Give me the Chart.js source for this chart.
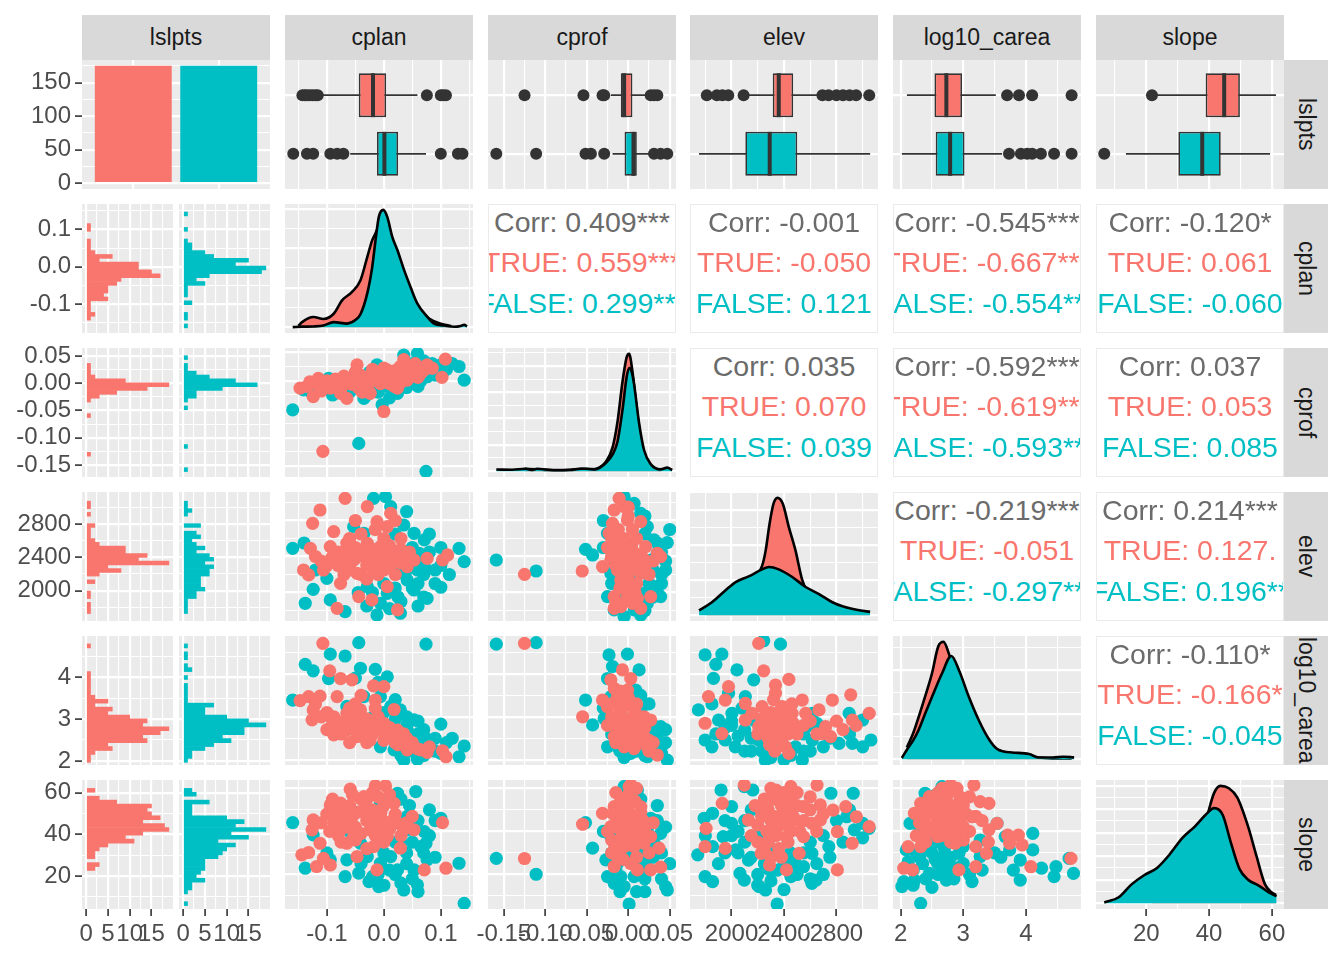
<!DOCTYPE html>
<html>
<head>
<meta charset="utf-8">
<script src="https://cdn.jsdelivr.net/npm/chart.js"></script>
<style>
  body { margin: 0; width: 1344px; height: 960px; overflow: hidden; background: #fff; position: relative;
         font-family: "Liberation Sans", Arial, sans-serif; }
  canvas { position: absolute; }
  .strip { position: absolute; background: #D9D9D9; color: #1A1A1A; font-size: 23px; overflow: hidden;
           display: flex; align-items: center; justify-content: center; white-space: nowrap; }
  .strip.right span { writing-mode: vertical-rl; }
  .corr { position: absolute; background: #fff; border: 1.5px solid #EBEBEB; box-sizing: border-box; overflow: hidden; }
  .corr div { position: absolute; left: -120px; right: -120px; text-align: center; font-size: 28.5px;
              line-height: 1; white-space: nowrap; }
</style>
</head>
<body>
<script>
// ---- data ----
const vars = ['lslpts', 'cplan', 'cprof', 'elev', 'log10_carea', 'slope'];
const groups = ['TRUE', 'FALSE'];
const groupCounts = [175, 175];

// axis ranges and breaks
const cplanLimits = [-0.1735, 0.1565];
const cplanBreaks = [-0.1, 0, 0.1];
const cplanLabels = ['-0.1', '0.0', '0.1'];
const cplanMinor = [-0.15, -0.05, 0.05, 0.15];
const cprofLimits = [-0.169, 0.0575];
const cprofBreaks = [-0.15, -0.1, -0.05, 0, 0.05];
const cprofLabels = ['-0.15', '-0.10', '-0.05', '0.00', '0.05'];
const cprofMinor = [-0.175, -0.125, -0.075, -0.025, 0.025];
const elevLimits = [1683, 3117];
const elevBreaks = [2000, 2400, 2800];
const elevLabels = ['2000', '2400', '2800'];
const elevMinor = [1800, 2200, 2600, 3000];
const logLimits = [1.878, 4.88];
const logBreaks = [2, 3, 4];
const logLabels = ['2', '3', '4'];
const logMinor = [2.5, 3.5, 4.5];
const slopeLimits = [3.97, 63.85];
const slopeBreaks = [20, 40, 60];
const slopeLabels = ['20', '40', '60'];
const slopeMinor = [10, 30, 50];

const countLimits = [-8.75, 183.75];
const countBreaks = [0, 50, 100, 150];
const countLabels = ['0', '50', '100', '150'];
const countMinor = [25, 75, 125, 175];

const histCountLimits = [-0.95, 19.95];
const histCountBreaks = [0, 5, 10, 15];
const histCountLabels = ['0', '5', '10', '15'];
const histCountMinor = [2.5, 7.5, 12.5, 17.5];

const histCplanLimits = [-0.1775, 0.168];
const histCprofLimits = [-0.1722, 0.0649];
const histElevLimits = [1636, 3184];
const histLogLimits = [1.904, 4.98];
const histSlopeLimits = [4.13, 66.1];

// histogram bins (centre of first bin, bin width) and counts, lowest bin first
const cplanBin = [-0.1585, 0.01034];
const histCplanTrue  = [0,0,1,2,1,1,1,5,4,5,5,7,8,17,15,12,12,3,6,2,1,1,1,0,0,1,1,0,0,0];
const histCplanFalse = [1,0,1,1,0,0,2,0,1,1,1,5,3,6,18,19,12,15,7,5,2,2,1,0,0,1,0,0,0,1];
const cprofBin = [-0.1587, 0.0071];
const histCprofTrue  = [0,0,0,0,1,0,0,0,0,0,0,0,0,0,1,0,0,0,1,3,7,14,19,9,2,1,1,1,0,0];
const histCprofFalse = [1,0,0,0,0,0,1,0,0,0,0,0,0,0,0,0,1,0,1,3,3,9,17,12,6,3,1,1,0,1];
const elevBin = [1748, 44.95];
const histElevTrue  = [1,1,1,0,1,1,0,0,2,0,3,8,5,19,12,14,9,9,3,2,1,1,1,2,0,0,1,0,1,1];
const histElevFalse = [1,1,1,1,3,3,5,4,4,4,6,6,7,5,7,6,3,5,3,2,4,3,0,4,0,0,1,2,1,1];
const logBin = [2.0145, 0.0941];
const histLogTrue  = [1,1,2,6,5,14,13,17,19,13,14,10,5,6,2,5,2,1,1,1,1,1,1,0,0,0,0,0,0,1];
const histLogFalse = [1,2,2,5,7,11,9,14,14,19,15,10,5,5,7,1,1,1,1,1,0,1,0,2,1,0,1,1,0,1];
const slopeBin = [6.7, 1.877];
const histSlopeTrue  = [0,0,0,0,0,0,0,0,0,2,3,0,2,2,3,5,11,9,13,19,18,13,17,15,14,15,7,3,0,2];
const histSlopeFalse = [1,0,0,1,2,2,5,3,4,5,5,5,8,9,10,12,8,15,11,19,12,14,10,2,2,2,6,0,3,2];

// boxplots: [lower whisker, q1, median, q3, upper whisker] and outliers
const boxCplanTrue  = [-0.112, -0.044, -0.019, 0.004, 0.059];
const outCplanTrue  = [-0.143, -0.139, -0.135, -0.130, -0.125, -0.120, -0.116, 0.0755, 0.100, 0.104, 0.109];
const boxCplanFalse = [-0.059, -0.012, 0.001, 0.025, 0.074];
const outCplanFalse = [-0.159, -0.135, -0.124, -0.094, -0.082, -0.071, 0.100, 0.130, 0.138];
const boxCprofTrue  = [-0.021, -0.009, -0.005, 0.005, 0.023];
const outCprofTrue  = [-0.125, -0.054, -0.031, -0.029, 0.027, 0.031, 0.035];
const boxCprofFalse = [-0.019, -0.0045, 0.0063, 0.0103, 0.027];
const outCprofFalse = [-0.159, -0.111, -0.0515, -0.045, -0.029, 0.031, 0.039, 0.047];
const boxElevTrue  = [2130, 2314, 2360, 2470, 2654];
const outElevTrue  = [1811, 1888, 1930, 1975, 2092, 2693, 2740, 2800, 2850, 2900, 2950, 3050];
const boxElevFalse = [1752, 2105, 2291, 2501, 3057];
const outElevFalse = [];
const boxLogTrue  = [2.10, 2.54, 2.73, 2.98, 3.52];
const outLogTrue  = [3.70, 3.89, 4.10, 4.73];
const boxLogFalse = [2.02, 2.56, 2.79, 3.02, 3.62];
const outLogFalse = [3.73, 3.92, 4.02, 4.10, 4.24, 4.45, 4.73];
const boxSlopeTrue  = [23.4, 38.9, 44.8, 49.8, 61.3];
const outSlopeTrue  = [21.8];
const boxSlopeFalse = [13.5, 30.2, 37.8, 43.7, 59.4];
const outSlopeFalse = [6.6];

// densities (relative height, tallest curve of a panel = 1)
const densCplanTrue = [[-0.150,0.01],[-0.1435,0.043],[-0.1235,0.086],[-0.106,0.07],[-0.088,0.114],[-0.073,0.23],[-0.0558,0.30],[-0.041,0.40],[-0.029,0.60],[-0.0205,0.74],[-0.0146,0.80],[-0.008,0.86],[0.0,0.82],[0.015,0.65],[0.03,0.45],[0.045,0.3],[0.06,0.17],[0.08,0.07],[0.1,0.03],[0.118,0.01]];
const densCplanFalse = [[-0.160,0.0],[-0.1435,0.004],[-0.1235,0.006],[-0.106,0.014],[-0.088,0.043],[-0.0646,0.03],[-0.05,0.06],[-0.041,0.11],[-0.029,0.29],[-0.0205,0.51],[-0.0146,0.74],[-0.0088,0.94],[-0.001,1.0],[0.006,0.94],[0.0148,0.77],[0.0236,0.66],[0.0353,0.49],[0.047,0.34],[0.0589,0.2],[0.0766,0.086],[0.0882,0.03],[0.106,0.014],[0.1235,0.003],[0.135,0.01],[0.141,0.02],[0.146,0.006]];
const densCprofTrue = [[-0.125,0.02],[-0.11,0.015],[-0.09,0.01],[-0.07,0.012],[-0.055,0.02],[-0.045,0.015],[-0.035,0.03],[-0.027,0.08],[-0.019,0.2],[-0.013,0.42],[-0.007,0.76],[-0.002,0.97],[0.001,1.0],[0.005,0.85],[0.009,0.6],[0.013,0.38],[0.019,0.15],[0.027,0.05],[0.033,0.02],[0.039,0.01]];
const densCprofFalse = [[-0.159,0.014],[-0.14,0.012],[-0.124,0.02],[-0.115,0.01],[-0.11,0.02],[-0.09,0.008],[-0.07,0.01],[-0.0575,0.02],[-0.05,0.02],[-0.04,0.015],[-0.027,0.07],[-0.019,0.14],[-0.013,0.25],[-0.007,0.52],[-0.002,0.8],[0.001,0.88],[0.004,0.85],[0.007,0.74],[0.013,0.41],[0.019,0.18],[0.027,0.06],[0.039,0.015],[0.047,0.03],[0.053,0.01]];
const densElevTrue = [[1811,0.02],[1900,0.05],[2000,0.1],[2100,0.22],[2180,0.32],[2233,0.42],[2260,0.55],[2290,0.78],[2320,0.95],[2350,1.0],[2391,0.95],[2437,0.75],[2488,0.55],[2539,0.3],[2600,0.16],[2700,0.1],[2800,0.07],[2900,0.05],[3000,0.03],[3050,0.02]];
const densElevFalse = [[1752,0.04],[1850,0.11],[1952,0.21],[2028,0.28],[2130,0.33],[2233,0.39],[2284,0.41],[2360,0.39],[2463,0.325],[2565,0.24],[2667,0.18],[2769,0.11],[2846,0.076],[2973,0.042],[3057,0.028]];
const densLogTrue = [[2.10,0.1],[2.2,0.22],[2.3,0.38],[2.4,0.55],[2.5,0.73],[2.6,0.96],[2.685,1.0],[2.77,0.9],[2.85,0.75],[3.0,0.55],[3.2,0.3],[3.4,0.14],[3.55,0.08],[3.7,0.05],[3.9,0.03],[4.1,0.02],[4.3,0.01],[4.5,0.005],[4.73,0.005]];
const densLogFalse = [[2.02,0.01],[2.1,0.08],[2.2,0.16],[2.28,0.24],[2.4,0.4],[2.5,0.53],[2.66,0.73],[2.81,0.88],[2.93,0.76],[3.09,0.53],[3.25,0.33],[3.41,0.17],[3.54,0.086],[3.65,0.065],[3.78,0.057],[4.05,0.043],[4.21,0.014],[4.43,0.014],[4.6,0.02],[4.77,0.015]];
const densSlopeTrue = [[21.8,0.02],[25,0.06],[30,0.2],[35,0.42],[38.9,0.7],[41.6,0.94],[43.6,1.0],[46.3,0.98],[49,0.9],[52.4,0.655],[55.1,0.4],[57.8,0.16],[60,0.09],[61.3,0.07]];
const densSlopeFalse = [[6.6,0.006],[11.2,0.05],[15.3,0.16],[19.4,0.24],[23.4,0.3],[27.4,0.415],[31.5,0.556],[35.5,0.655],[38.9,0.754],[41.6,0.81],[44.3,0.754],[47,0.51],[49.7,0.29],[52.4,0.2],[55.8,0.15],[59.1,0.09],[61.5,0.06]];

const densLimits = [-0.05, 1.05];
const densCplanGrid = [[0, 0.336, 0.672, 1.008], [0.168, 0.504, 0.84]];
const densCprofGrid = [[0, 0.224, 0.448, 0.672, 0.896], [0.112, 0.336, 0.56, 0.784, 1.008]];
const densElevGrid = [[0, 0.298, 0.596, 0.894], [0.149, 0.447, 0.745, 1.043]];
const densLogGrid = [[0, 0.38, 0.76], [0.19, 0.57, 0.95]];
const densSlopeGrid = [[0, 0.2, 0.4, 0.6, 0.8, 1.0], [0.1, 0.3, 0.5, 0.7, 0.9]];

// scatter points [x, y]
const scCplanCprofTrue = [[-0.107,-0.124],[0,-0.054],[-0.047,0.028],[0.035,0.037],[0.076,0.028],[0.108,0.038],[0.102,0.006],[-0.147,-0.013],[-0.124,-0.028],[-0.094,-0.013],[-0.065,0.001],[-0.035,0.001],[-0.018,0.013],[0.006,0.019],[0.024,0.007],[0.053,0.016],[-0.076,-0.022],[-0.029,-0.01],[-0.006,-0.005],[0.018,-0.01],[0.041,0.001],[0.065,0.013],[-0.106,-0.01],[-0.053,-0.007],[-0.088,-0.002],[-0.041,0.01],[-0.012,0.004],[0.012,0.013],[0.029,0.025],[-0.065,-0.031],[-0.135,-0.01],[-0.024,-0.022],[0.024,-0.013],[0.071,0.019],[-0.12,-0.005],[-0.1,0.0],[-0.08,-0.008],[-0.06,-0.005],[-0.045,-0.012],[-0.03,0.005],[-0.015,0.0],[0.0,0.005],[0.015,0.0],[0.035,0.012],[0.045,0.02],[0.06,0.006],[-0.07,0.008],[-0.05,0.015],[0.0,0.022],[0.03,-0.003],[-0.11,-0.018],
  [-0.13,-0.002],[-0.115,0.004],[-0.095,-0.006],[-0.085,0.003],[-0.075,-0.012],[-0.058,0.004],[-0.04,-0.002],[-0.025,0.008],[-0.008,0.012],[0.008,0.008],[0.02,0.018],[0.04,0.024],[0.055,0.03],[0.07,0.024],[0.085,0.022],[-0.02,0.02],[0.01,-0.005],[-0.038,-0.02],[0.05,0.008]];
const scCplanCprofFalse = [[-0.160,-0.051],[-0.044,-0.110],[0.074,-0.159],[-0.003,-0.042],[0.035,0.045],[0.059,0.048],[0.1,0.028],[0.132,0.025],[0.141,0.001],[0.076,0.007],[-0.097,0.004],[-0.035,-0.031],[-0.012,0.028],[0.024,-0.022],[-0.141,-0.016],[-0.076,-0.004],[0.012,0.001],[0.047,0.013],[0.065,0.022],[-0.065,-0.016],[-0.124,-0.022],[0.0,-0.01],[0.03,-0.005],[-0.02,-0.015],[0.05,0.0],[-0.05,-0.008],[0.02,0.01],[0.08,0.015],[-0.1,-0.012],[0.04,-0.012],[-0.08,-0.02],[0.06,-0.01],[0.09,0.01],[-0.03,-0.025],[0.01,-0.03],[0.05,0.03],[0.11,0.02],
  [-0.13,-0.018],[-0.09,-0.025],[-0.06,-0.02],[-0.01,-0.02],[0.015,-0.015],[0.035,0.02],[0.07,0.035],[0.085,0.03],[0.12,0.03],[0.1,0.018],[-0.025,0.015],[0.065,0.0]];

const scCplanElevTrue = [[-0.068,3047],[-0.112,2917],[-0.125,2769],[-0.088,2676],[-0.129,2491],[-0.141,2250],[-0.132,2195],[-0.082,1824],[0.024,1806],[-0.044,1954],[-0.021,1917],[-0.076,2102],[0.103,2361],[0.112,2417],[0.076,2380],[-0.029,2954],[0.012,2880],[-0.012,2787],[0.006,2732],[-0.094,2361],[-0.065,2436],[-0.035,2398],[-0.006,2361],[0.024,2436],[0.053,2361],[-0.047,2213],[-0.018,2250],[0.006,2065],[-0.065,2547],[-0.029,2547],[-0.106,2250],[-0.094,2510],[0.041,2287],[-0.006,2510],[-0.053,2361],[-0.08,2300],[-0.06,2300],[-0.04,2450],[-0.02,2400],[0.0,2450],[0.02,2350],[0.04,2400],[-0.05,2500],[-0.03,2300],[-0.01,2200],[0.01,2280],[-0.07,2200],[0.03,2480],[-0.11,2350],[0.0,2600],[-0.04,2650],
  [-0.09,2400],[-0.07,2350],[-0.05,2380],[-0.03,2420],[-0.01,2330],[0.01,2400],[0.03,2330],[-0.06,2250],[-0.04,2200],[-0.02,2280],[0.0,2250],[0.02,2200],[-0.08,2450],[-0.06,2600],[-0.02,2480],[0.01,2520],[-0.1,2300],[-0.12,2400],[0.045,2450],[-0.03,2150],[0.03,2600],[-0.015,2700],[-0.05,2800],[0.02,2800]];
const scCplanElevFalse = [[-0.160,2491],[-0.124,2035],[-0.138,1880],[-0.094,1917],[-0.068,1787],[-0.012,1750],[0.029,1769],[0.076,1935],[0.1,2058],[0.132,2491],[0.141,2343],[-0.018,3047],[0.003,3065],[0.012,2954],[0.035,2750],[0.053,2658],[0.071,2584],[0.062,2436],[-0.053,2732],[-0.035,2658],[-0.1,2157],[0.024,2213],[0.041,2139],[0.006,1991],[0.053,2028],[-0.006,1880],[-0.029,2065],[-0.065,2287],[-0.082,2398],[0.059,2250],[0.071,2287],[0.035,2398],[0.02,2650],[0.05,2500],[0.08,2450],[0.06,2100],[0.03,1900],[0.0,2100],[-0.02,2000],[0.09,2250],[0.045,2300],[0.07,1950],
  [0.04,2250],[0.07,2200],[0.09,2100],[0.05,2050],[0.02,2050],[-0.03,1850],[0.01,1820],[0.06,1850],[0.08,2650],[0.1,2500],[-0.12,2250],[-0.14,2550],[0.04,2900],[0.1,2300],[0.115,2200],[-0.045,2000],[0.025,1950],[0.055,2380]];

const scCprofElevTrue = [[-0.125,2202],[-0.0555,2239],[-0.011,3047],[-0.017,2917],[-0.019,2769],[-0.023,2658],[-0.005,2954],[-0.001,2806],[0.015,2787],[0.021,2510],[0.035,2436],[0.039,2398],[-0.031,2287],[-0.021,2361],[-0.013,2510],[-0.001,2547],[0.007,2398],[0.015,2213],[-0.009,2139],[0.003,2065],[-0.017,1954],[-0.001,1954],[0.011,1935],[0.027,1954],[-0.017,1824],[-0.009,1843],[0.015,1824],[-0.005,2361],[0.007,2287],[-0.013,2250],[-0.01,2400],[0.0,2450],[0.01,2350],[-0.005,2600],[0.005,2700],[-0.015,2300],[0.02,2300],[0.0,2200],[-0.01,2050],[0.01,2100],[-0.02,2600],[0.0,2850],
  [-0.012,2450],[0.004,2500],[0.012,2420],[-0.008,2300],[0.002,2330],[0.018,2380],[-0.02,2400],[-0.005,2150],[0.008,2000],[-0.012,2700],[0.01,2600],[0.0,2950],[-0.025,2500],[0.025,2200],[0.03,2350],[-0.015,1900],[0.005,1880]];
const scCprofElevFalse = [[-0.159,2361],[-0.111,2239],[-0.0515,2480],[-0.043,2417],[0.047,2554],[0.045,2250],[0.039,1954],[-0.005,3065],[0.007,2991],[0.015,2880],[0.023,2732],[0.031,2584],[-0.025,2658],[-0.017,2436],[-0.009,2213],[0.007,2139],[0.019,1991],[-0.025,1954],[-0.017,1806],[-0.005,1732],[0.007,1806],[0.023,1880],[0.031,2065],[0.035,2436],[-0.021,2213],[0.015,2287],[0.003,2510],[0.027,2361],[0.02,2650],[0.035,2550],[-0.01,1850],[0.02,1800],[0.025,2100],[-0.02,2100],[0.04,2200],
  [0.03,2250],[0.04,2450],[0.045,2350],[0.03,1950],[0.015,1750],[-0.03,2500],[-0.01,1950],[0.04,2100],[0.05,2700],[0.02,2850],[-0.03,2800],[0.035,2000]];

const scCplanLogTrue = [[-0.107,4.71],[-0.095,4.07],[-0.076,3.89],[-0.056,3.86],[-0.018,3.72],[0,3.70],[-0.015,3.39],[0.018,3.17],[-0.147,3.375],[-0.132,3.47],[-0.112,3.48],[-0.124,3.16],[-0.126,2.93],[-0.088,3.0],[-0.088,2.58],[-0.065,2.69],[-0.047,2.85],[-0.029,2.77],[-0.006,2.69],[0.012,2.54],[0.029,2.38],[0.053,2.30],[0.076,2.17],[0.103,2.21],[0.109,2.07],[-0.065,3.08],[-0.041,3.16],[-0.082,3.47],[-0.024,2.46],[0,2.85],[0.024,2.69],[0.041,2.23],[0.065,2.23],[-0.047,2.54],[-0.07,2.9],[-0.05,2.7],[-0.03,2.95],[-0.01,3.0],[0.01,2.75],[0.03,2.5],[-0.06,3.2],[-0.04,2.6],[-0.02,2.6],[0.0,2.45],[0.02,2.4],[0.04,2.5],[-0.08,2.75],[-0.11,3.0],[-0.05,3.3],[0.05,2.4],
  [-0.1,3.1],[-0.09,2.9],[-0.075,2.6],[-0.06,2.8],[-0.04,2.9],[-0.02,2.8],[0.0,2.65],[0.015,2.6],[0.025,2.35],[0.045,2.35],[0.06,2.25],[0.08,2.3],[-0.03,2.4],[-0.06,2.4],[-0.1,2.7],[-0.015,3.2],[-0.04,3.5],[0.035,2.6],[-0.055,3.0],[-0.12,3.3]];
const scCplanLogFalse = [[-0.160,3.39],[-0.138,4.22],[-0.124,4.07],[-0.094,4.46],[-0.068,4.415],[-0.044,4.725],[0.074,4.69],[-0.041,4.13],[-0.015,4.105],[0.006,3.93],[0.1,2.83],[0.071,2.54],[0.141,2.32],[0.132,2.07],[0.035,1.99],[0.059,2.01],[-0.097,3.89],[0.029,3.16],[0.053,2.93],[0.041,2.69],[-0.006,3.47],[0.012,3.24],[-0.029,2.46],[-0.006,2.30],[0.018,2.23],[0.053,2.38],[-0.035,3.47],[-0.065,3.24],[-0.018,3.0],[0.065,2.30],[0.04,2.8],[0.06,2.6],[0.08,2.4],[0.02,2.95],[0.0,3.1],[0.03,2.1],[0.09,2.2],[0.06,2.9],
  [0.07,2.7],[0.09,2.5],[0.11,2.4],[0.05,2.2],[0.07,2.1],[0.04,3.0],[0.02,3.4],[-0.01,3.8],[0.1,2.15],[0.12,2.5],[-0.05,3.9],[0.075,2.25]];

const scCprofLogTrue = [[-0.125,4.71],[-0.055,3.0],[-0.007,4.09],[0.003,3.89],[-0.021,3.86],[-0.017,3.66],[-0.031,3.39],[-0.025,3.23],[-0.013,3.47],[-0.001,3.39],[0.007,3.08],[0.019,3.0],[0.027,2.925],[-0.017,2.925],[-0.005,2.69],[0.007,2.69],[0.019,2.54],[-0.017,2.54],[-0.005,2.30],[0.007,2.26],[0.023,2.30],[0.035,2.11],[-0.001,3.62],[-0.009,2.85],[0.011,2.46],[-0.01,3.1],[0.0,2.95],[0.01,2.8],[-0.02,3.0],[-0.005,3.25],[0.015,2.6],[0.005,2.4],[-0.01,2.6],[0.025,2.45],[-0.015,2.75],[0.0,2.55],[0.01,3.3],
  [-0.02,3.3],[-0.012,2.95],[0.003,2.7],[0.013,2.95],[0.02,2.75],[-0.005,2.45],[0.01,2.35],[0.025,2.2],[0.03,2.4],[-0.025,2.8],[-0.01,3.6],[0.0,3.45],[-0.015,2.4],[0.018,2.55],[-0.005,2.85],[0.008,3.15]];
const scCprofLogFalse = [[-0.159,4.69],[-0.111,4.725],[-0.0232,4.44],[-0.001,4.46],[-0.019,4.17],[0.013,4.09],[-0.025,3.89],[0.009,3.62],[-0.0515,3.39],[-0.043,2.81],[-0.029,2.96],[0.039,2.77],[0.047,1.99],[0.023,2.07],[0.003,2.15],[-0.017,2.69],[-0.009,3.16],[0.015,3.16],[0.031,2.38],[-0.013,2.30],[0.007,2.54],[0.023,2.69],[-0.021,3.47],[-0.001,2.85],[0.035,2.23],[0.02,2.4],[0.03,2.6],[-0.02,2.6],[0.01,2.2],[0.04,2.3],[-0.005,2.05],[0.025,2.9],
  [0.035,2.5],[0.04,2.15],[0.045,2.4],[0.02,2.1],[-0.01,2.2],[-0.025,2.3],[0.015,2.65],[0.03,2.8],[-0.03,3.2],[0.015,3.5],[0.025,3.3],[0.045,2.7]];

const scElevLogTrue = [[2207,4.71],[2245,4.07],[2335,3.74],[2437,3.87],[1977,3.70],[1824,3.47],[1952,3.39],[2105,3.31],[2156,3.08],[2207,2.77],[2309,2.925],[2386,3.235],[2462,3.08],[2539,3.39],[2565,3.08],[2667,3.16],[2769,3.39],[2909,3.51],[2922,2.925],[3050,3.08],[2718,2.77],[2692,2.61],[2756,2.54],[1798,2.85],[1926,2.61],[2360,2.61],[2411,2.30],[2284,2.61],[2488,2.77],[2437,2.15],[2105,2.925],[2233,3.235],[2335,3.55],[2300,2.8],[2350,3.0],[2400,2.7],[2450,2.9],[2280,2.5],[2380,2.45],[2330,2.2],[2260,3.0],[2420,3.1],[2370,2.85],
  [2250,2.8],[2320,2.65],[2360,2.75],[2420,2.95],[2470,2.85],[2300,3.1],[2380,3.2],[2350,2.55],[2290,2.35],[2430,2.6],[2500,2.6],[2550,2.8],[2200,2.6],[2230,2.95],[2460,3.3],[2320,3.4],[2600,2.9],[2650,2.6],[2800,2.9],[2850,2.7],[2950,2.8]];
const scElevLogFalse = [[1798,4.44],[1926,4.46],[1880,4.22],[2041,4.09],[1862,3.895],[1747,3.16],[1977,3.55],[2169,3.86],[2245,4.77],[2373,4.69],[2105,3.47],[2003,3.08],[1901,2.925],[1798,2.46],[1952,2.46],[2028,2.30],[2207,2.46],[2258,1.99],[2539,1.99],[2488,2.30],[2616,2.46],[2718,2.61],[2820,2.38],[2922,2.38],[3063,2.46],[2897,3.08],[2999,2.925],[2616,3.08],[2411,2.61],[2335,2.30],[2100,2.7],[2000,2.8],[1850,3.3],[2150,2.2],[2600,2.8],[2550,2.2],
  [2150,2.5],[2180,2.9],[2080,3.2],[2050,2.55],[1950,2.75],[1880,2.6],[2230,2.2],[2300,2.05],[2450,2.1],[2600,2.2],[2700,2.3],[2550,2.6],[2650,2.85],[2750,2.5],[2900,2.6],[3000,2.3],[2100,2.2],[2400,2.0],[1850,2.3],[2000,2.9]];

const scCplanSlopeTrue = [[-0.059,59.6],[-0.015,61.1],[0.003,61.1],[-0.094,52.3],[-0.076,53.1],[-0.124,45.3],[-0.126,40.7],[-0.112,34.5],[-0.144,29.1],[-0.132,30.2],[-0.118,23.7],[-0.106,27.5],[-0.094,24.4],[-0.047,28.3],[-0.012,22.1],[0.029,32.2],[0.071,22.1],[0.103,44.1],[0.109,22.9],[-0.065,48.4],[-0.035,50.0],[-0.006,46.9],[0.024,43.8],[0.053,40.7],[-0.076,40.7],[-0.053,37.6],[-0.024,40.7],[0.006,37.6],[-0.035,56.1],[0.018,53.0],[-0.088,43.8],[-0.018,32.9],[-0.065,34.5],[-0.07,45],[-0.05,42],[-0.03,45],[-0.01,43],[0.01,41],[0.03,38],[-0.06,52],[-0.04,55],[-0.02,50],[0.0,52],[0.02,48],[-0.08,38],[-0.05,36],[-0.03,32],[0.0,35],[-0.1,48],[0.04,44],[-0.09,55],[-0.02,58],
  [-0.085,48],[-0.075,50],[-0.055,47],[-0.045,49],[-0.025,47],[-0.005,49],[0.015,45],[0.035,41],[-0.065,42],[-0.04,39],[-0.015,38],[0.005,44],[-0.095,40],[-0.11,44],[-0.075,35],[-0.03,55],[-0.01,56],[0.01,57],[0.05,47],[-0.055,57],[0.0,40]];
const scCplanSlopeFalse = [[-0.160,44.1],[-0.138,22.9],[-0.124,38.4],[-0.094,26.8],[-0.068,19.0],[-0.044,20.6],[-0.026,16.7],[-0.009,14.4],[0.035,12.8],[0.059,15.2],[0.132,25.2],[0.141,6.6],[0.1,46.1],[0.071,39.9],[0.074,34.5],[0.076,26.8],[0.056,58.5],[0.024,57.7],[-0.006,53.0],[0.041,46.9],[0.029,34.5],[0.012,28.3],[-0.006,25.2],[-0.029,28.3],[0.024,22.1],[0.053,22.1],[0.065,32.9],[-0.041,34.5],[-0.065,26.8],[0.041,40.7],[0.04,30],[0.06,45],[0.02,20],[-0.02,19],[0.05,18],[0.0,30],[0.08,38],[-0.06,40],[0.03,55],
  [0.02,35],[0.04,25],[0.05,35],[0.07,30],[0.09,28],[0.01,22],[-0.01,20],[0.03,16],[0.06,12],[-0.04,25],[0.08,50],[0.09,45],[-0.1,30],[0.0,15],[0.045,52]];

const scCprofSlopeTrue = [[-0.125,27.4],[-0.055,43.3],[0.001,60.8],[0.003,61.6],[-0.017,51.5],[-0.009,54.6],[0.015,51.5],[-0.031,48.4],[-0.021,42.2],[-0.017,34.5],[-0.009,40.7],[-0.001,45.3],[0.007,46.9],[0.015,40.7],[0.027,37.6],[0.037,32.2],[-0.017,23.7],[0.011,22.1],[0.027,22.1],[0.039,23.4],[-0.005,33.0],[0.007,33.0],[-0.013,28.3],[-0.001,37.6],[0.019,34.5],[-0.01,48],[0.0,50],[0.01,44],[-0.015,42],[0.005,38],[-0.005,55],[0.015,49],[-0.02,36],[0.02,42],[0.0,42],[-0.01,31],[0.01,28],[0.0,57],
  [-0.012,45],[0.002,47],[0.012,40],[-0.008,37],[0.008,35],[-0.018,48],[0.018,45],[-0.003,52],[0.008,54],[-0.015,58],[0.01,60],[-0.02,30],[0.025,30],[0.003,25],[-0.006,27],[0.02,38],[-0.025,40],[0.03,44]];
const scCprofSlopeFalse = [[-0.159,27.5],[-0.111,20.1],[-0.0515,44.1],[-0.043,32.2],[-0.005,60.8],[0.011,59.2],[0.027,46.1],[0.039,39.1],[0.045,14.4],[0.047,12.8],[0.001,6.3],[-0.025,19.0],[-0.017,15.9],[-0.005,14.4],[0.007,19.0],[0.015,25.2],[0.023,26.8],[0.031,34.5],[-0.027,26.8],[-0.021,37.6],[-0.013,25.2],[-0.001,28.3],[0.007,37.6],[0.023,40.7],[-0.009,19.0],[0.015,30],[0.02,18],[-0.015,22],[0.03,28],[0.035,45],[-0.005,45],[0.01,12],
  [0.025,22],[0.03,35],[0.04,30],[0.02,12],[-0.01,12],[-0.02,30],[0.04,18],[0.05,25],[0.045,42],[-0.03,40],[0.015,55],[0.035,52]];

const scElevSlopeTrue = [[2097,61.5],[2339,59.2],[2452,60.8],[2652,61.5],[1929,53.0],[1806,41.4],[1798,32.9],[1952,32.1],[2129,45.3],[2290,54.6],[2403,56.1],[2549,51.5],[2677,52.3],[2774,49.9],[2871,51.5],[2952,46.8],[3049,42.2],[2920,34.5],[2807,22.1],[2419,22.1],[2290,24.4],[2226,29.8],[2290,37.6],[2419,37.6],[2484,45.3],[2613,43.7],[2677,45.3],[2549,37.6],[2355,46.8],[2226,49.9],[2419,49.9],[2807,39.9],[2516,29.8],[2300,45],[2350,42],[2400,48],[2450,40],[2380,52],[2330,55],[2270,40],[2200,43],[2500,52],[2430,35],[2360,32],[2300,28],[2250,55],[2550,45],[2400,58],[2200,35],
  [2280,50],[2320,47],[2370,45],[2420,43],[2470,47],[2520,40],[2340,38],[2280,35],[2230,47],[2180,52],[2450,55],[2300,60],[2500,58],[2600,50],[2650,40],[2380,28],[2250,31],[2700,48],[2150,38],[2600,56]];
const scElevSlopeFalse = [[1742,29.1],[1791,46.1],[1855,48.4],[1798,19.0],[1855,16.7],[1920,59.2],[2000,51.5],[2097,60.8],[2162,59.2],[2064,20.5],[2097,17.4],[2211,14.4],[2259,12.8],[2348,6.3],[2452,19.0],[2549,23.6],[2613,15.9],[2645,17.4],[2758,57.7],[2928,57.7],[2879,46.8],[2936,40.7],[3001,43.7],[3049,41.4],[2742,32.9],[2613,29.8],[2484,25.2],[2290,22.1],[2129,26.7],[2000,43.7],[1936,37.6],[1855,32.9],[2323,31.4],[2032,31.4],[2194,37.6],[2100,35],[2050,40],[1950,45],[2200,20],[2300,17],[2400,26],[2700,38],[2600,35],[2800,45],[2500,20],[1900,25],[2150,50],
  [2000,38],[2050,30],[2150,28],[2250,25],[2350,22],[2450,30],[2550,30],[2650,25],[2750,28],[2850,35],[1950,30],[2100,45],[2200,15],[2400,13],[2700,20],[2900,50],[1800,38],[2600,18],[3000,37]];

const scLogSlopeTrue = [[2.05,22.9],[2.19,22.1],[2.12,32.9],[2.22,48.4],[2.32,53.0],[2.46,56.1],[2.66,60.0],[2.80,61.5],[3.17,61.5],[3.27,53.8],[3.41,53.0],[3.54,43.7],[3.41,40.7],[3.20,32.9],[2.93,22.1],[3.20,23.6],[3.37,29.8],[3.71,38.3],[3.88,38.3],[3.74,34.5],[3.94,33.7],[4.08,23.6],[4.72,27.5],[2.59,45.3],[2.87,49.9],[3.0,42.2],[2.59,37.6],[2.87,34.5],[2.39,40.7],[2.73,53.0],[3.14,46.8],[2.32,32.9],[2.5,50],[2.6,45],[2.7,48],[2.8,42],[2.9,46],[3.0,52],[2.45,42],[2.55,55],[2.75,57],[2.65,38],[2.85,38],[3.1,40],[2.4,47],[2.95,56],[2.3,44],[3.2,47],
  [2.35,50],[2.45,55],[2.55,48],[2.65,52],[2.75,45],[2.85,52],[2.95,44],[3.05,48],[2.5,40],[2.6,42],[2.7,40],[2.8,35],[2.9,40],[3.0,36],[3.3,45],[2.4,35],[2.6,58],[2.9,60],[3.1,56],[2.25,38],[3.4,35],[2.7,60]];
const scLogSlopeFalse = [[2.02,14.4],[2.05,16.7],[2.22,17.4],[2.32,6.6],[2.12,25.9],[2.09,31.4],[2.15,43.7],[2.39,57.7],[2.56,56.9],[2.66,60.8],[2.87,36.0],[2.93,29.8],[3.14,16.7],[2.73,17.4],[2.46,20.5],[2.59,25.2],[2.39,31.4],[3.0,32.9],[3.27,36.0],[3.54,43.7],[3.67,37.6],[3.74,31.4],[3.91,26.7],[3.91,17.4],[4.11,39.1],[4.11,31.4],[4.25,22.9],[4.48,23.6],[4.45,19.0],[4.76,20.5],[4.69,27.5],[3.27,28.3],[2.73,25.2],[2.32,37.6],[2.3,28],[2.5,30],[2.7,32],[2.6,20],[2.8,28],[2.9,23],[2.4,18],[2.2,22],[3.1,20],
  [2.25,30],[2.35,25],[2.55,27],[2.65,28],[2.75,22],[2.85,18],[3.0,25],[2.45,35],[2.6,35],[2.2,15],[2.5,14],[3.3,22],[3.5,30],[2.3,40],[2.45,50],[3.6,28],[3.8,22]];

// correlation text for the upper panels [row, col, lines]
const corrText = [
  [1, 2, ['Corr: 0.409***', 'TRUE: 0.559***', 'FALSE: 0.299***']],
  [1, 3, ['Corr: -0.001', 'TRUE: -0.050', 'FALSE: 0.121']],
  [1, 4, ['Corr: -0.545***', 'TRUE: -0.667***', 'FALSE: -0.554***']],
  [1, 5, ['Corr: -0.120*', 'TRUE: 0.061', 'FALSE: -0.060']],
  [2, 3, ['Corr: 0.035', 'TRUE: 0.070', 'FALSE: 0.039']],
  [2, 4, ['Corr: -0.592***', 'TRUE: -0.619***', 'FALSE: -0.593***']],
  [2, 5, ['Corr: 0.037', 'TRUE: 0.053', 'FALSE: 0.085']],
  [3, 4, ['Corr: -0.219***', 'TRUE: -0.051', 'FALSE: -0.297***']],
  [3, 5, ['Corr: 0.214***', 'TRUE: 0.127.', 'FALSE: 0.196**']],
  [4, 5, ['Corr: -0.110*', 'TRUE: -0.166*', 'FALSE: -0.045']]
];

// ---- layout ----
const SALMON = '#F8766D', TEAL = '#00BFC4', DARK = '#333333';
const COL_X = [82, 285, 488, 690, 893, 1096];
const ROW_Y = [60, 204, 348, 492, 636, 780];
const PW = 188, PH = 129, M = 30;
const LEFT_AXIS = 82, BOTTOM_AXIS = 51;
const FACET_X = [82, 179], FACET_W = 91;
const POINT_R = 6.6;

const spec = {
  cplan: {limits: cplanLimits, majors: cplanBreaks, labels: cplanLabels, minors: cplanMinor},
  cprof: {limits: cprofLimits, majors: cprofBreaks, labels: cprofLabels, minors: cprofMinor},
  elev: {limits: elevLimits, majors: elevBreaks, labels: elevLabels, minors: elevMinor},
  log: {limits: logLimits, majors: logBreaks, labels: logLabels, minors: logMinor},
  slope: {limits: slopeLimits, majors: slopeBreaks, labels: slopeLabels, minors: slopeMinor}
};
const withLimits = (s, limits) => Object.assign({}, s, {limits});
const groupSpec = {limits: [0.4, 2.6], majors: [1, 2], labels: null, minors: []};

const panelBg = {
  id: 'panelBg',
  beforeDraw(chart) {
    const a = chart.chartArea, ctx = chart.ctx;
    ctx.save();
    ctx.fillStyle = '#EBEBEB';
    ctx.fillRect(a.left, a.top, a.right - a.left, a.bottom - a.top);
    ctx.restore();
  }
};

function makeCanvas(x, y, w, h, axisW, axisH) {
  const c = document.createElement('canvas');
  const W = w + axisW + 2 * M, H = h + axisH + 2 * M;
  c.width = W; c.height = H;
  c.style.left = (x - axisW - M) + 'px';
  c.style.top = (y - M) + 'px';
  c.style.width = W + 'px';
  c.style.height = H + 'px';
  document.body.appendChild(c);
  return c;
}

function axis(s, show, size) {
  const [lo, hi] = s.limits;
  const ticks = s.majors.map((v, i) => ({value: v, txt: s.labels ? s.labels[i] : ''}))
    .concat((s.minors || []).map(v => ({value: v, minor: true, txt: ''})))
    .filter(t => t.value >= lo && t.value <= hi)
    .sort((a, b) => a.value - b.value);
  return {
    type: 'linear', min: lo, max: hi, offset: false, bounds: 'data',
    afterBuildTicks: sc => { sc.ticks = ticks.map(t => Object.assign({}, t)); },
    afterFit: sc => { if (sc.isHorizontal()) sc.height = size; else sc.width = size; },
    border: {display: false},
    grid: {
      offset: false, drawTicks: show, tickLength: 7, color: '#FFFFFF',
      lineWidth: c => (c.tick && c.tick.minor) ? 1.1 : 2.2,
      tickColor: c => (c.tick && c.tick.minor) ? 'rgba(0,0,0,0)' : DARK,
      tickWidth: 1.6
    },
    ticks: {
      display: show, autoSkip: false, maxRotation: 0, minRotation: 0, padding: 4,
      color: '#4D4D4D', font: {family: 'Liberation Sans', size: 24},
      callback: (v, i, t) => t[i].txt
    }
  };
}

function baseOptions(extra) {
  return Object.assign({
    responsive: false, animation: false, events: [],
    layout: {padding: M},
    plugins: {legend: {display: false}, tooltip: {enabled: false}}
  }, extra);
}

const toXY = pts => pts.map(p => ({x: p[0], y: p[1]}));

// row 1, col 1: counts per group
function countPanel() {
  const cv = makeCanvas(COL_X[0], ROW_Y[0], PW, PH, LEFT_AXIS, 0);
  new Chart(cv, {
    type: 'bar',
    data: {datasets: [{
      data: groups.map((g, i) => ({x: i + 1, y: groupCounts[i]})),
      backgroundColor: [SALMON, TEAL], borderWidth: 0,
      barPercentage: 0.9, categoryPercentage: 1
    }]},
    options: baseOptions({scales: {
      x: axis(groupSpec, false, 0),
      y: axis({limits: countLimits, majors: countBreaks, labels: countLabels, minors: countMinor}, true, LEFT_AXIS)
    }}),
    plugins: [panelBg]
  });
}

// row 1: boxplots per group
function boxPanel(c, s, boxT, outT, boxF, outF) {
  const cv = makeCanvas(COL_X[c], ROW_Y[0], PW, PH, 0, 0);
  const sets = [];
  [[boxT, outT, SALMON, 2], [boxF, outF, TEAL, 1]].forEach(([b, out, col, y]) => {
    sets.push({type: 'scatter', order: 0, data: out.map(v => ({x: v, y})),
      pointRadius: 6, pointBorderWidth: 0, pointBackgroundColor: DARK});
    sets.push({type: 'scatter', order: 1, showLine: true, data: [{x: b[2], y: y - 0.375}, {x: b[2], y: y + 0.375}],
      borderColor: DARK, borderWidth: 4, pointRadius: 0});
    sets.push({type: 'bar', order: 2, indexAxis: 'y', data: [{x: [b[1], b[3]], y}],
      backgroundColor: col, borderColor: DARK, borderWidth: 1.7, borderSkipped: false,
      grouped: false, barPercentage: 1, categoryPercentage: 0.75});
    sets.push({type: 'scatter', order: 3, showLine: true, data: [{x: b[0], y}, {x: b[4], y}],
      borderColor: DARK, borderWidth: 1.7, pointRadius: 0});
  });
  new Chart(cv, {
    type: 'scatter',
    data: {datasets: sets},
    options: baseOptions({scales: {x: axis(s, false, 0), y: axis(groupSpec, false, 0)}}),
    plugins: [panelBg]
  });
}

// column 1: histograms faceted by group
function histPanel(r, facet, ySpec, bin, counts, color) {
  const showY = facet === 0, bottom = r === 5;
  const cv = makeCanvas(FACET_X[facet], ROW_Y[r], FACET_W, PH, showY ? LEFT_AXIS : 0, bottom ? BOTTOM_AXIS : 0);
  const data = counts.map((n, i) => ({x: n, y: bin[0] + i * bin[1]})).filter(d => d.x > 0);
  new Chart(cv, {
    type: 'bar',
    data: {datasets: [{data, backgroundColor: color, borderWidth: 0, barPercentage: 1, categoryPercentage: 1}]},
    options: baseOptions({indexAxis: 'y', scales: {
      x: axis({limits: histCountLimits, majors: histCountBreaks, labels: histCountLabels, minors: histCountMinor},
               bottom, bottom ? BOTTOM_AXIS : 0),
      y: axis(ySpec, showY, showY ? LEFT_AXIS : 0)
    }}),
    plugins: [panelBg]
  });
}

// diagonal: densities
function densityPanel(i, s, grid, dTrue, dFalse) {
  const bottom = i === 5;
  const cv = makeCanvas(COL_X[i], ROW_Y[i], PW, PH, 0, bottom ? BOTTOM_AXIS : 0);
  const curve = (pts, col) => ({data: toXY(pts), fill: 'origin', backgroundColor: col, borderColor: '#000000',
    borderWidth: 2.6, pointRadius: 0, cubicInterpolationMode: 'monotone', clip: 4});
  new Chart(cv, {
    type: 'line',
    data: {datasets: [curve(dFalse, TEAL), curve(dTrue, SALMON)]},
    options: baseOptions({scales: {
      x: axis(s, bottom, bottom ? BOTTOM_AXIS : 0),
      y: axis({limits: densLimits, majors: grid[0], labels: null, minors: grid[1]}, false, 0)
    }}),
    plugins: [panelBg]
  });
}

// lower triangle: scatter plots
function scatterPanel(r, c, xs, ys, pTrue, pFalse) {
  const bottom = r === 5;
  const cv = makeCanvas(COL_X[c], ROW_Y[r], PW, PH, 0, bottom ? BOTTOM_AXIS : 0);
  const pts = (p, col) => ({data: toXY(p), pointRadius: POINT_R, pointBorderWidth: 0, pointBackgroundColor: col});
  new Chart(cv, {
    type: 'scatter',
    data: {datasets: [pts(pTrue, SALMON), pts(pFalse, TEAL)]},
    options: baseOptions({scales: {x: axis(xs, bottom, bottom ? BOTTOM_AXIS : 0), y: axis(ys, false, 0)}}),
    plugins: [panelBg]
  });
}

function corrPanel(r, c, lines) {
  const d = document.createElement('div');
  d.className = 'corr';
  Object.assign(d.style, {left: COL_X[c] + 'px', top: ROW_Y[r] + 'px', width: PW + 'px', height: PH + 'px'});
  const colors = ['#6B6B6B', SALMON, TEAL];
  [18.5, 58.5, 99].forEach((cy, i) => {
    const t = document.createElement('div');
    t.textContent = lines[i];
    t.style.top = (cy - 15.5) + 'px';
    t.style.color = colors[i];
    d.appendChild(t);
  });
  document.body.appendChild(d);
}

function strip(x, y, w, h, text, right) {
  const d = document.createElement('div');
  d.className = 'strip' + (right ? ' right' : '');
  Object.assign(d.style, {left: x + 'px', top: y + 'px', width: w + 'px', height: h + 'px'});
  const s = document.createElement('span');
  s.textContent = text;
  d.appendChild(s);
  document.body.appendChild(d);
}

// ---- build ----
vars.forEach((v, i) => {
  strip(COL_X[i], 15, PW, 45, v, false);
  strip(COL_X[5] + PW, ROW_Y[i], 44, PH, v, true);
});

countPanel();
boxPanel(1, spec.cplan, boxCplanTrue, outCplanTrue, boxCplanFalse, outCplanFalse);
boxPanel(2, spec.cprof, boxCprofTrue, outCprofTrue, boxCprofFalse, outCprofFalse);
boxPanel(3, spec.elev, boxElevTrue, outElevTrue, boxElevFalse, outElevFalse);
boxPanel(4, spec.log, boxLogTrue, outLogTrue, boxLogFalse, outLogFalse);
boxPanel(5, spec.slope, boxSlopeTrue, outSlopeTrue, boxSlopeFalse, outSlopeFalse);

const histRows = [
  [1, withLimits(spec.cplan, histCplanLimits), cplanBin, histCplanTrue, histCplanFalse],
  [2, withLimits(spec.cprof, histCprofLimits), cprofBin, histCprofTrue, histCprofFalse],
  [3, withLimits(spec.elev, histElevLimits), elevBin, histElevTrue, histElevFalse],
  [4, withLimits(spec.log, histLogLimits), logBin, histLogTrue, histLogFalse],
  [5, withLimits(spec.slope, histSlopeLimits), slopeBin, histSlopeTrue, histSlopeFalse]
];
histRows.forEach(([r, s, bin, t, f]) => {
  histPanel(r, 0, s, bin, t, SALMON);
  histPanel(r, 1, s, bin, f, TEAL);
});

densityPanel(1, spec.cplan, densCplanGrid, densCplanTrue, densCplanFalse);
densityPanel(2, spec.cprof, densCprofGrid, densCprofTrue, densCprofFalse);
densityPanel(3, spec.elev, densElevGrid, densElevTrue, densElevFalse);
densityPanel(4, spec.log, densLogGrid, densLogTrue, densLogFalse);
densityPanel(5, spec.slope, densSlopeGrid, densSlopeTrue, densSlopeFalse);

scatterPanel(2, 1, spec.cplan, spec.cprof, scCplanCprofTrue, scCplanCprofFalse);
scatterPanel(3, 1, spec.cplan, spec.elev, scCplanElevTrue, scCplanElevFalse);
scatterPanel(3, 2, spec.cprof, spec.elev, scCprofElevTrue, scCprofElevFalse);
scatterPanel(4, 1, spec.cplan, spec.log, scCplanLogTrue, scCplanLogFalse);
scatterPanel(4, 2, spec.cprof, spec.log, scCprofLogTrue, scCprofLogFalse);
scatterPanel(4, 3, spec.elev, spec.log, scElevLogTrue, scElevLogFalse);
scatterPanel(5, 1, spec.cplan, spec.slope, scCplanSlopeTrue, scCplanSlopeFalse);
scatterPanel(5, 2, spec.cprof, spec.slope, scCprofSlopeTrue, scCprofSlopeFalse);
scatterPanel(5, 3, spec.elev, spec.slope, scElevSlopeTrue, scElevSlopeFalse);
scatterPanel(5, 4, spec.log, spec.slope, scLogSlopeTrue, scLogSlopeFalse);

corrText.forEach(([r, c, lines]) => corrPanel(r, c, lines));
</script>
</body>
</html>
